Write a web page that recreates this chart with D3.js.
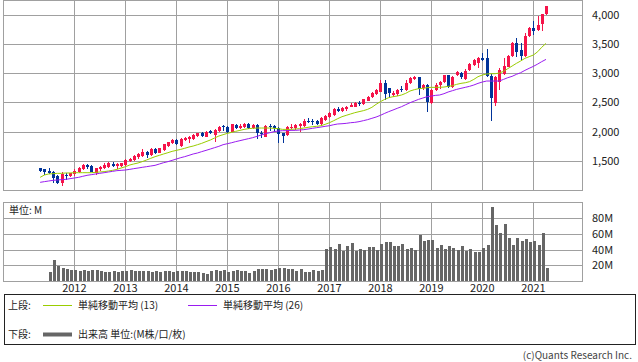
<!DOCTYPE html>
<html>
<head>
<meta charset="utf-8">
<script src="https://cdn.jsdelivr.net/npm/d3@7"></script>
<style>
  body { margin: 0; background: #fff; }
  text { font-family: 'Noto Sans CJK JP', 'Noto Sans', sans-serif; font-size: 11px; fill: #222; }
  .small { font-size: 10px; }
</style>
</head>
<body>
<script>
'use strict';

// monthly candles, May 2011 .. Apr 2021
const firstMonth = new Date(2011, 4, 1)
const lastMonth = new Date(2021, 4, 1)

const opens = [
  1370,1353,1325,1302,1239,1125,1256,1239,1268,1308,
  1359,1428,1416,1296,1353,1382,1399,1445,1416,1410,
  1428,1496,1513,1559,1581,1656,1599,1701,1638,1684,
  1752,1798,1855,1758,1855,1866,1872,1923,1980,1912,
  2009,1941,2009,2094,2083,1998,2112,2055,2072,2129,
  2066,2112,1980,1912,2094,2094,2055,1969,1941,2055,
  2055,2100,2094,2186,2186,2180,2129,2197,2243,2283,
  2391,2345,2379,2425,2425,2493,2471,2528,2585,2642,
  2682,2835,2739,2625,2636,2721,2710,2824,2904,2927,
  2739,2796,2482,2710,2796,2853,2961,2756,2967,3006,
  2898,3052,3138,3166,3252,3252,2949,2493,2853,2984,
  3109,3291,3508,3394,3291,3639,3765,3736,3839,4004
]
const highs = [
  1375,1360,1370,1325,1256,1302,1291,1296,1353,1399,
  1445,1445,1428,1382,1416,1456,1473,1485,1467,1467,
  1524,1547,1593,1627,1701,1667,1713,1713,1724,1792,
  1827,1866,1866,1884,1900,1923,1952,1980,1998,2009,
  2026,2037,2094,2112,2100,2129,2123,2129,2140,2140,
  2123,2129,2009,2106,2129,2112,2072,1980,2094,2129,
  2129,2140,2208,2226,2214,2197,2243,2283,2340,2397,
  2414,2414,2436,2482,2511,2522,2562,2607,2682,2721,
  2881,2881,2750,2699,2727,2778,2881,2927,2949,2938,
  2813,2813,2721,2824,2870,2972,2972,2949,3041,3024,
  3063,3166,3246,3269,3337,3411,2984,2949,3081,3252,
  3309,3537,3594,3508,3679,3782,3890,3975,4010,4152
]
const lows = [
  1302,1262,1268,1114,1097,1074,1171,1228,1245,1296,
  1348,1359,1302,1262,1325,1353,1382,1399,1359,1388,
  1416,1485,1502,1524,1570,1553,1587,1610,1627,1673,
  1741,1787,1770,1741,1844,1809,1855,1912,1912,1901,
  1958,1827,1998,2009,1980,1986,2037,2037,2055,2037,
  2049,1866,1884,1901,2009,1998,1809,1809,1923,2037,
  2026,1998,2083,2140,2117,2112,2112,2186,2231,2265,
  2334,2328,2357,2414,2414,2436,2454,2516,2568,2625,
  2670,2539,2579,2596,2607,2682,2699,2807,2881,2625,
  2710,2340,2471,2699,2721,2835,2739,2739,2949,2893,
  2881,3035,3120,3081,3212,2927,2186,2436,2710,2967,
  3098,3280,3280,3223,3280,3622,3651,3725,3725,3998
]
const closes = [
  1331,1308,1291,1205,1125,1279,1245,1285,1331,1382,
  1428,1388,1314,1370,1399,1428,1456,1416,1439,1456,
  1513,1536,1581,1616,1656,1599,1701,1627,1713,1781,
  1815,1855,1781,1872,1889,1900,1941,1969,1929,1998,
  1969,2026,2083,2072,1998,2123,2055,2100,2129,2055,
  2112,1980,1952,2094,2072,2055,1952,1929,2083,2083,
  2112,2123,2186,2169,2157,2129,2226,2265,2311,2379,
  2351,2402,2425,2454,2493,2465,2550,2596,2664,2710,
  2824,2642,2653,2664,2710,2710,2824,2910,2938,2721,
  2790,2511,2710,2796,2853,2961,2756,2938,3024,2927,
  3041,3155,3223,3252,3223,2949,2568,2938,3052,3120,
  3291,3519,3366,3291,3639,3765,3719,3822,4004,4146
]
const ma13 = [
  1217,1257,1274,1279,1285,1285,1291,1291,1296,1296,
  1296,1296,1296,1302,1308,1314,1325,1336,1353,1376,
  1399,1428,1445,1462,1485,1513,1542,1570,1593,1616,
  1638,1661,1678,1695,1713,1735,1752,1775,1798,1827,
  1855,1889,1923,1946,1969,1986,2003,2020,2037,2049,
  2055,2060,2060,2060,2060,2055,2049,2037,2037,2037,
  2043,2049,2060,2072,2083,2089,2100,2123,2151,2186,
  2220,2254,2277,2300,2322,2340,2357,2379,2414,2465,
  2511,2550,2579,2596,2607,2625,2653,2693,2716,2733,
  2739,2750,2756,2756,2756,2761,2773,2784,2807,2824,
  2835,2853,2892,2938,2967,2984,2989,2989,3001,3029,
  3075,3120,3166,3206,3252,3280,3309,3366,3440,3508
]
const ma26 = [
  1131,1143,1154,1165,1171,1177,1182,1194,1205,1217,
  1234,1251,1262,1274,1285,1296,1308,1319,1331,1336,
  1342,1353,1365,1376,1388,1399,1410,1422,1445,1467,
  1485,1507,1530,1553,1570,1593,1616,1633,1656,1678,
  1701,1724,1747,1775,1792,1809,1827,1844,1861,1878,
  1895,1918,1941,1963,1980,1998,2009,2015,2015,2020,
  2020,2026,2032,2043,2055,2066,2077,2089,2100,2117,
  2129,2134,2140,2151,2157,2169,2186,2203,2226,2248,
  2277,2311,2340,2368,2397,2425,2459,2493,2522,2550,
  2573,2596,2607,2619,2625,2647,2676,2699,2721,2739,
  2756,2773,2796,2824,2847,2864,2864,2864,2864,2892,
  2921,2944,2978,3006,3046,3081,3115,3155,3195,3234
]
// volume in millions (none for the first two months)
const volumes = [
  null,null,11.9,26.8,19.1,17,14.9,14,14,13.2,
  14,13.2,14,13.6,12.3,11.9,11.9,12.8,11.9,12.3,
  12.8,13.6,12.8,12.3,13.2,12.8,11.5,12.8,11.9,13.2,
  13.2,11.9,13.2,12.8,12.3,11.5,11.5,11.5,10.2,9.4,
  12.3,14,12.8,13.6,11.9,13.2,14.5,13.2,12.8,10.2,
  12.8,15.3,15.3,14.9,13.6,15.3,17,16.6,15.3,14.9,
  12.8,15.3,11.9,11.9,14,13.2,14,40.9,43,40.9,
  47.2,38.3,44.7,48.5,38.3,40.9,39.6,43,43,39.6,
  47.2,49.8,49.8,44.7,44.7,47.2,40.4,42.1,39.6,58.7,
  51.1,52.3,52.3,42.1,46,40.4,44.7,42.1,39.6,44.7,
  38.3,40.9,37,37,42.1,46,94.9,71.5,61.3,72.8,
  54.5,46,54.9,51.1,53.6,49.8,51.1,46,61.3,16.2
]

const yearTicks = [2012, 2013, 2014, 2015, 2016, 2017, 2018, 2019, 2020, 2021]
const priceTicks = [1500, 2000, 2500, 3000, 3500, 4000]
const volumeTicks = [20, 40, 60, 80]

const m = {
  width: 638,
  height: 362,
  left: 3,
  right: 583,
  priceTop: 0,
  priceBottom: 190,
  volTop: 202,
  volBottom: 281
}

const colors = {
  up: '#f5144a',
  down: '#003399',
  ma13: '#9acd00',
  ma26: '#9a1cf0',
  volume: '#666666',
  grid: '#a0a0a0'
}

let months = d3.timeMonth.range(firstMonth, lastMonth)
let data = months.map((d, i) => ({
  date: d, open: opens[i], high: highs[i], low: lows[i], close: closes[i],
  ma13: ma13[i], ma26: ma26[i], volume: volumes[i]
}))

let svg = d3.select('body')
  .append('svg')
  .attr('width', m.width)
  .attr('height', m.height)

let xScale = d3.scaleTime()
  .domain([new Date(2010, 7, 8), new Date(2021, 11, 22)])
  .range([m.left, m.right])

let yPrice = d3.scaleLinear()
  .domain([1000, 4250])
  .range([m.priceBottom, m.priceTop])

let yVol = d3.scaleLinear()
  .domain([0, 100])
  .range([m.volBottom, m.volBottom - 78.3])

let px = (v) => Math.round(v) + 0.5

drawPanel(yPrice, priceTicks, m.priceTop, m.priceBottom, d3.format(','))
drawPanel(yVol, volumeTicks, m.volTop, m.volBottom, (d) => d + 'M')
drawCandles()
drawAverages()
drawVolume()
drawYearLabels()
drawLegend()


function drawPanel(yScale, ticks, top, bottom, fmt) {
  let g = svg.append('g').attr('shape-rendering', 'crispEdges')

  g.selectAll('.hgrid')
    .data(ticks)
  .enter().append('line')
    .attr('x1', m.left)
    .attr('x2', m.right)
    .attr('y1', (d) => px(yScale(d)))
    .attr('y2', (d) => px(yScale(d)))
    .style('stroke', colors.grid)

  g.selectAll('.vgrid')
    .data(yearTicks)
  .enter().append('line')
    .attr('x1', (d) => px(xScale(new Date(d, 0, 1))))
    .attr('x2', (d) => px(xScale(new Date(d, 0, 1))))
    .attr('y1', top)
    .attr('y2', bottom)
    .style('stroke', colors.grid)

  g.append('rect')
    .attr('x', m.left + 0.5)
    .attr('y', top + 0.5)
    .attr('width', m.right - m.left - 1)
    .attr('height', bottom - top)
    .style('fill', 'none')
    .style('stroke', colors.grid)

  svg.selectAll(null)
    .data(ticks)
  .enter().append('text')
    .attr('x', 592)
    .attr('y', (d) => yScale(d) + 4)
    .text(fmt)
}

function drawCandles() {
  let g = svg.append('g').attr('shape-rendering', 'crispEdges')

  let candle = g.selectAll('.candle')
    .data(data)
  .enter().append('g')
    .attr('class', 'candle')

  candle.append('line')
    .attr('x1', (d) => px(xScale(d.date)))
    .attr('x2', (d) => px(xScale(d.date)))
    .attr('y1', (d) => yPrice(d.high))
    .attr('y2', (d) => yPrice(d.low))
    .style('stroke', (d) => d.close >= d.open ? colors.up : colors.down)

  candle.append('rect')
    .attr('x', (d) => Math.round(xScale(d.date)) - 1)
    .attr('width', 3)
    .attr('y', (d) => yPrice(Math.max(d.open, d.close)))
    .attr('height', (d) => Math.max(1, Math.abs(yPrice(d.open) - yPrice(d.close))))
    .style('fill', (d) => d.close >= d.open ? colors.up : colors.down)
}

function drawAverages() {
  let line13 = d3.line()
    .x((d) => xScale(d.date))
    .y((d) => yPrice(d.ma13))
  let line26 = d3.line()
    .x((d) => xScale(d.date))
    .y((d) => yPrice(d.ma26))

  svg.append('path')
    .datum(data)
    .attr('d', line13)
    .style('fill', 'none')
    .style('stroke', colors.ma13)
    .style('stroke-width', 1)

  svg.append('path')
    .datum(data)
    .attr('d', line26)
    .style('fill', 'none')
    .style('stroke', colors.ma26)
    .style('stroke-width', 1)
}

function drawVolume() {
  svg.append('g')
    .attr('shape-rendering', 'crispEdges')
    .selectAll('rect')
    .data(data.filter((d) => d.volume != null))
  .enter().append('rect')
    .attr('x', (d) => Math.round(xScale(d.date)))
    .attr('width', 3)
    .attr('y', (d) => yVol(d.volume))
    .attr('height', (d) => yVol(0) - yVol(d.volume))
    .style('fill', colors.volume)

  svg.append('text')
    .attr('class', 'small')
    .attr('x', 9)
    .attr('y', 214)
    .text('単位: M')
}

function drawYearLabels() {
  svg.selectAll('.year')
    .data(yearTicks)
  .enter().append('text')
    .attr('x', (d) => xScale(new Date(d, 0, 1)))
    .attr('y', 292)
    .style('text-anchor', 'middle')
    .text((d) => d)
}

function drawLegend() {
  svg.append('rect')
    .attr('x', 4.5)
    .attr('y', 294.5)
    .attr('width', 631)
    .attr('height', 50)
    .style('fill', 'none')
    .style('stroke', '#222')
    .attr('shape-rendering', 'crispEdges')

  let items = [
    { x: 43, y: 305.5, color: colors.ma13, w: 1, label: '単純移動平均 (13)' },
    { x: 188, y: 305.5, color: colors.ma26, w: 1, label: '単純移動平均 (26)' },
    { x: 43, y: 334.5, color: colors.volume, w: 4, label: '出来高 単位:(M株/口/枚)' }
  ]

  svg.append('text').attr('class', 'small').attr('x', 8).attr('y', 309).text('上段:')
  svg.append('text').attr('class', 'small').attr('x', 8).attr('y', 338).text('下段:')

  items.forEach((it) => {
    svg.append('line')
      .attr('x1', it.x)
      .attr('x2', it.x + 29)
      .attr('y1', it.y)
      .attr('y2', it.y)
      .style('stroke', it.color)
      .style('stroke-width', it.w)
    svg.append('text')
      .attr('class', 'small')
      .attr('x', it.x + 35)
      .attr('y', it.y + 3.5)
      .text(it.label)
  })

  svg.append('text')
    .attr('class', 'small')
    .attr('x', 632)
    .attr('y', 359)
    .style('text-anchor', 'end')
    .style('fill', '#444')
    .text('(c)Quants Research Inc.')
}
</script>
</body>
</html>
